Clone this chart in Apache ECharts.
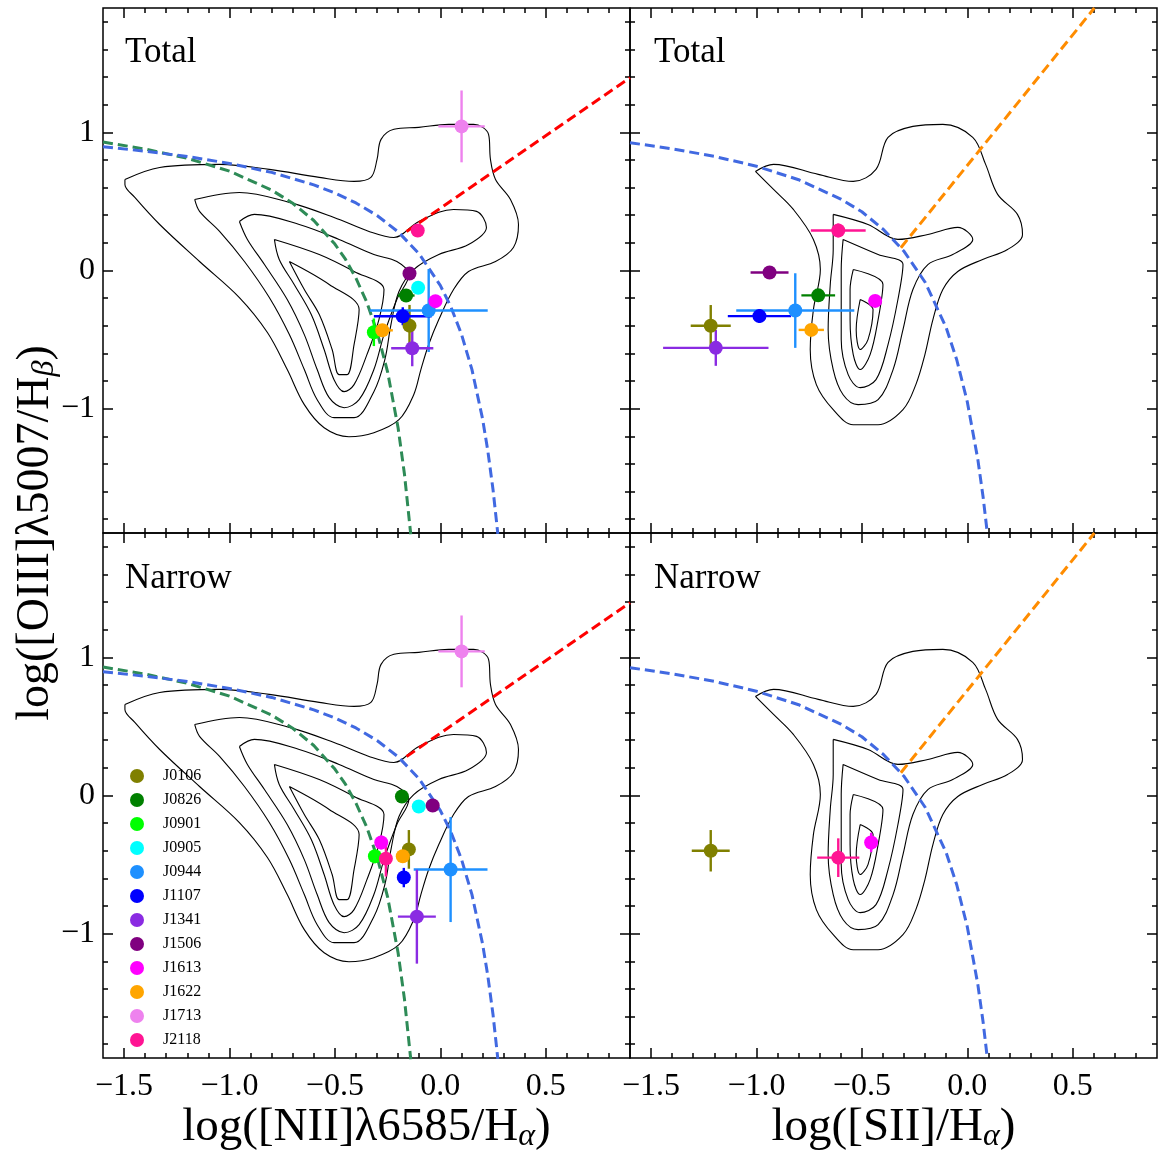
<!DOCTYPE html>
<html><head><meta charset="utf-8">
<script src="https://cdn.jsdelivr.net/npm/echarts@6/dist/echarts.min.js"></script>
<style>html,body{margin:0;padding:0;background:#fff}#c{width:1159px;height:1150px}</style>
</head><body><div id="c"></div>
<script>
const sources = ["J0106","J0826","J0901","J0905","J0944","J1107","J1341","J1506","J1613","J1622","J1713","J2118"];
const sourceColors = ["#808000","#008000","#00ff00","#00ffff","#1e90ff","#0000ff","#8a2be2","#800080","#ff00ff","#ffa500","#ee82ee","#ff1493"];

const xMajorTicks = [-1.5,-1.0,-0.5,0.0,0.5];
const xMinorTicks = [-1.5,-1.4,-1.3,-1.2,-1.1,-1.0,-0.9,-0.8,-0.7,-0.6,-0.5,-0.4,-0.3,-0.2,-0.1,0.0,0.1,0.2,0.3,0.4,0.5,0.6,0.7,0.8];
const yMajorTicks = [-1,0,1];
const yMinorTicks = [-1.8,-1.6,-1.4,-1.2,-1.0,-0.8,-0.6,-0.4,-0.2,0.0,0.2,0.4,0.6,0.8,1.0,1.2,1.4,1.6,1.8];

// Total, [NII]
const totNII_x  = [-0.146,-0.162,-0.315,-0.105,-0.055,-0.178,-0.133,-0.146,-0.023,-0.275,0.101,-0.107];
const totNII_y  = [-0.399,-0.181,-0.447,-0.125,-0.290,-0.331,-0.563,-0.022,-0.222,-0.433,1.043,0.290];
const totNII_ex = [0,0.04,0,0,0.28,0.137,0.10,0,0,0.05,0.11,0.02];
const totNII_ey = [0.15,0.02,0.10,0,0.30,0.065,0.13,0,0,0,0.26,0.04];
// Total, [SII]
const totSII_x  = [-1.217,-0.707,null,null,-0.816,-0.986,-1.193,-0.938,-0.437,-0.740,null,-0.612];
const totSII_y  = [-0.400,-0.180,null,null,-0.290,-0.330,-0.560,-0.015,-0.220,-0.430,null,0.290];
const totSII_ex = [0.095,0.08,0,0,0.28,0.15,0.25,0.09,0.03,0.06,0,0.13];
const totSII_ey = [0.15,0.02,0,0,0.27,0.05,0.13,0,0.03,0,0,0.05];
// Narrow, [NII]
const narNII_x  = [-0.149,-0.182,-0.310,-0.102,0.049,-0.173,-0.111,-0.036,-0.280,-0.178,0.101,-0.258];
const narNII_y  = [-0.390,-0.007,-0.440,-0.080,-0.536,-0.594,-0.877,-0.072,-0.340,-0.440,1.043,-0.457];
const narNII_ex = [0,0.02,0,0,0.175,0,0.09,0,0,0,0.11,0];
const narNII_ey = [0.14,0,0.05,0,0.38,0.07,0.34,0,0.05,0,0.26,0.13];
// Narrow, [SII]
const narSII_x  = [-1.217,null,null,null,null,null,null,null,-0.456,null,null,-0.612];
const narSII_y  = [-0.400,null,null,null,null,null,null,null,-0.340,null,null,-0.450];
const narSII_ex = [0.09,0,0,0,0,0,0,0,0,0,0,0.10];
const narSII_ey = [0.15,0,0,0,0,0,0,0,0.07,0,0,0.14];

// demarcation curves
const kewleyNII = [[-1.6,0.895],[-1.4,0.864],[-1.2,0.825],[-1.0,0.775],[-0.8,0.710],[-0.6,0.620],[-0.5,0.561],[-0.4,0.489],[-0.3,0.398],[-0.2,0.280],[-0.1,0.120],[0.0,-0.108],[0.05,-0.262],[0.1,-0.459],[0.15,-0.716],[0.2,-1.069],[0.225,-1.300],[0.25,-1.583],[0.273,-1.906]];
const kauffNII = [[-1.6,0.930],[-1.4,0.879],[-1.2,0.812],[-1.0,0.719],[-0.8,0.582],[-0.7,0.487],[-0.6,0.362],[-0.5,0.191],[-0.45,0.082],[-0.4,-0.056],[-0.35,-0.225],[-0.3,-0.443],[-0.25,-0.733],[-0.2,-1.140],[-0.17,-1.473],[-0.14,-1.911]];
const seyfertNII = [[-0.16,0.282],[0.9,1.395]];
const kewleySII = [[-1.6,0.925],[-1.4,0.881],[-1.2,0.826],[-1.0,0.755],[-0.8,0.657],[-0.6,0.517],[-0.5,0.425],[-0.4,0.300],[-0.3,0.139],[-0.2,-0.085],[-0.1,-0.414],[-0.05,-0.646],[0.0,-0.950],[0.05,-1.367],[0.075,-1.639],[0.095,-1.900]];
const seyfertSII = [[-0.315,0.165],[0.603,1.900]];

// SDSS density contours, [NII] diagram
const niiC1 = [[-1.496,0.659],[-1.331,0.746],[-1.047,0.768],[-0.811,0.732],[-0.574,0.674],[-0.409,0.645],[-0.329,0.674],[-0.300,0.804],[-0.281,0.949],[-0.220,1.022],[-0.102,1.036],[0.040,1.058],[0.158,1.058],[0.229,0.986],[0.238,0.804],[0.262,0.659],[0.333,0.514],[0.371,0.333],[0.347,0.167],[0.262,0.065],[0.134,-0.007],[0.063,-0.138],[-0.007,-0.355],[-0.055,-0.536],[-0.092,-0.717],[-0.126,-0.899],[-0.196,-1.080],[-0.315,-1.174],[-0.433,-1.203],[-0.551,-1.138],[-0.645,-0.971],[-0.726,-0.717],[-0.820,-0.449],[-0.953,-0.196],[-1.142,0.065],[-1.331,0.333],[-1.449,0.529],[-1.496,0.623],[-1.496,0.659]];
const niiC2 = [[-1.165,0.514],[-0.953,0.565],[-0.716,0.493],[-0.504,0.384],[-0.338,0.283],[-0.220,0.239],[-0.102,0.355],[0.063,0.442],[0.172,0.428],[0.219,0.312],[0.134,0.188],[-0.007,0.116],[-0.126,0.007],[-0.196,-0.152],[-0.234,-0.391],[-0.263,-0.645],[-0.315,-0.877],[-0.409,-1.065],[-0.504,-1.065],[-0.584,-0.935],[-0.645,-0.717],[-0.716,-0.464],[-0.811,-0.196],[-0.929,0.065],[-1.047,0.283],[-1.142,0.428],[-1.165,0.514]];
const niiC3 = [[-0.953,0.355],[-0.882,0.406],[-0.669,0.333],[-0.480,0.225],[-0.315,0.116],[-0.206,0.065],[-0.149,-0.029],[-0.206,-0.210],[-0.267,-0.464],[-0.315,-0.717],[-0.385,-0.935],[-0.456,-0.993],[-0.527,-0.920],[-0.584,-0.717],[-0.645,-0.464],[-0.726,-0.210],[-0.834,0.043],[-0.915,0.225],[-0.953,0.355]];
const niiC4 = [[-0.787,0.225],[-0.574,0.116],[-0.409,-0.007],[-0.267,-0.138],[-0.291,-0.355],[-0.348,-0.609],[-0.409,-0.826],[-0.456,-0.877],[-0.504,-0.790],[-0.551,-0.572],[-0.612,-0.319],[-0.693,-0.101],[-0.764,0.080],[-0.787,0.225]];
const niiC5 = [[-0.716,0.065],[-0.527,-0.101],[-0.385,-0.283],[-0.409,-0.536],[-0.442,-0.754],[-0.480,-0.754],[-0.513,-0.572],[-0.574,-0.319],[-0.645,-0.138],[-0.716,0.065]];
// SDSS density contours, [SII] diagram
const siiC1 = [[-1.005,0.717],[-0.919,0.768],[-0.707,0.696],[-0.541,0.645],[-0.433,0.732],[-0.376,0.964],[-0.258,1.043],[-0.116,1.058],[0.026,0.964],[0.087,0.768],[0.144,0.551],[0.238,0.406],[0.262,0.261],[0.191,0.152],[0.073,0.080],[-0.045,-0.007],[-0.116,-0.138],[-0.163,-0.355],[-0.201,-0.609],[-0.244,-0.826],[-0.305,-1.007],[-0.423,-1.116],[-0.541,-1.116],[-0.636,-1.007],[-0.716,-0.826],[-0.745,-0.572],[-0.730,-0.283],[-0.697,0.007],[-0.730,0.225],[-0.825,0.442],[-0.919,0.587],[-1.005,0.717]];
const siiC2 = [[-0.636,0.406],[-0.471,0.333],[-0.329,0.225],[-0.187,0.261],[-0.045,0.312],[0.026,0.225],[-0.069,0.116],[-0.187,0.043],[-0.258,-0.138],[-0.305,-0.428],[-0.352,-0.717],[-0.423,-0.935],[-0.518,-0.971],[-0.589,-0.899],[-0.636,-0.717],[-0.660,-0.428],[-0.650,-0.101],[-0.636,0.152],[-0.636,0.406]];
const siiC3 = [[-0.589,0.225],[-0.423,0.116],[-0.305,0.043],[-0.329,-0.210],[-0.376,-0.536],[-0.433,-0.790],[-0.508,-0.848],[-0.565,-0.754],[-0.598,-0.500],[-0.598,-0.210],[-0.598,0.007],[-0.589,0.225]];
const siiC4 = [[-0.541,0.007],[-0.400,-0.101],[-0.423,-0.355],[-0.461,-0.609],[-0.508,-0.717],[-0.541,-0.609],[-0.556,-0.355],[-0.556,-0.138],[-0.541,0.007]];
const siiC5 = [[-0.508,-0.210],[-0.447,-0.283],[-0.471,-0.500],[-0.508,-0.572],[-0.527,-0.428],[-0.508,-0.210]];

const FONT = "'Liberation Serif','Times New Roman','DejaVu Serif',serif";
const X_MIN = -1.6, X_MAX = 0.9, Y_MIN = -1.9, Y_MAX = 1.9;
function fmtNum(v, d){ const s = Math.abs(v).toFixed(d); return v < -1e-9 ? '\u2212' + s : s; }

const grids = [
  {left:103, top:8, width:527, height:525},
  {left:630, top:8, width:527, height:525},
  {left:103, top:533, width:527, height:525},
  {left:630, top:533, width:527, height:525}
].map(g => Object.assign(g, {show:true, borderColor:'#000', borderWidth:1.5, backgroundColor:'transparent', containLabel:false, outerBoundsMode:'none'}));

const subStyle = {fontSize:32, fontStyle:'italic', fontFamily:FONT, color:'#000', padding:[18,0,0,0]};
const xAxes = [], yAxes = [];
const tickLine = {color:'#000', width:1.5};
function addAxes(g, showXLabels, xName){
  const xb = {type:'value', gridIndex:g, min:X_MIN, max:X_MAX, splitLine:{show:false}, axisLine:{show:false, onZero:false}};
  const xi = xAxes.length;
  xAxes.push(Object.assign({}, xb, {position:'bottom',
    axisTick:{show:true, inside:true, length:10, customValues:xMajorTicks, lineStyle:tickLine},
    axisLabel:{show:showXLabels, customValues:xMajorTicks, formatter:v=>fmtNum(v,1), fontSize:32, fontFamily:FONT, color:'#000', margin:13},
    name: xName || '', nameLocation:'middle', nameGap:44,
    nameTextStyle:{fontSize:47, fontFamily:FONT, color:'#000', rich:{s:subStyle}}
  }));
  xAxes.push(Object.assign({}, xb, {position:'bottom', axisTick:{show:true, inside:true, length:5, customValues:xMinorTicks, lineStyle:tickLine}, axisLabel:{show:false}}));
  xAxes.push(Object.assign({}, xb, {position:'top', axisTick:{show:true, inside:true, length:10, customValues:xMajorTicks, lineStyle:tickLine}, axisLabel:{show:false}}));
  xAxes.push(Object.assign({}, xb, {position:'top', axisTick:{show:true, inside:true, length:5, customValues:xMinorTicks, lineStyle:tickLine}, axisLabel:{show:false}}));
  const yb = {type:'value', gridIndex:g, min:Y_MIN, max:Y_MAX, splitLine:{show:false}, axisLine:{show:false, onZero:false}};
  const yi = yAxes.length;
  const showY = (g % 2 === 0);
  yAxes.push(Object.assign({}, yb, {position:'left',
    axisTick:{show:true, inside:true, length:10, customValues:yMajorTicks, lineStyle:tickLine},
    axisLabel:{show:showY, customValues:yMajorTicks, formatter:v=>fmtNum(v,0), fontSize:32, fontFamily:FONT, color:'#000', margin:8}}));
  yAxes.push(Object.assign({}, yb, {position:'left', axisTick:{show:true, inside:true, length:5, customValues:yMinorTicks, lineStyle:tickLine}, axisLabel:{show:false}}));
  yAxes.push(Object.assign({}, yb, {position:'right', axisTick:{show:true, inside:true, length:10, customValues:yMajorTicks, lineStyle:tickLine}, axisLabel:{show:false}}));
  yAxes.push(Object.assign({}, yb, {position:'right', axisTick:{show:true, inside:true, length:5, customValues:yMinorTicks, lineStyle:tickLine}, axisLabel:{show:false}}));
  return [xi, yi];
}

const series = [];
function contour(pts, ax){
  series.push({type:'line', xAxisIndex:ax[0], yAxisIndex:ax[1], data:pts, showSymbol:false, smooth:0.35, silent:true,
    lineStyle:{color:'#000', width:1.1}, z:1});
}
function dashed(pts, color, ax){
  series.push({type:'line', xAxisIndex:ax[0], yAxisIndex:ax[1], data:pts, showSymbol:false, smooth:false, silent:true,
    lineStyle:{color:color, width:3, type:[10,5]}, z:2});
}
function points(xs, ys, exs, eys, ax){
  sources.forEach((name, i) => {
    if (xs[i] === null) return;
    const color = sourceColors[i];
    series.push({type:'custom', name, xAxisIndex:ax[0], yAxisIndex:ax[1], silent:true, z:3,
      itemStyle:{color},
      encode:{x:0, y:1},
      data:[[xs[i], ys[i], exs[i], eys[i]]],
      renderItem:(params, api) => {
        const x = api.value(0), y = api.value(1), ex = api.value(2), ey = api.value(3);
        const ch = [];
        const st = {stroke:color, lineWidth:2.4};
        if (ex > 0){ const a = api.coord([x-ex,y]), b = api.coord([x+ex,y]); ch.push({type:'line', shape:{x1:a[0],y1:a[1],x2:b[0],y2:b[1]}, style:st}); }
        if (ey > 0){ const a = api.coord([x,y-ey]), b = api.coord([x,y+ey]); ch.push({type:'line', shape:{x1:a[0],y1:a[1],x2:b[0],y2:b[1]}, style:st}); }
        return {type:'group', children:ch};
      }});
    series.push({type:'scatter', name, xAxisIndex:ax[0], yAxisIndex:ax[1], data:[[xs[i], ys[i]]], symbol:'circle', symbolSize:14,
      itemStyle:{color, opacity:1}, silent:true, z:3});
  });
}

const axTL = addAxes(0, false, '');
const axTR = addAxes(1, false, '');
const axBL = addAxes(2, true, 'log([NII]\u03bb6585/H{s|\u03b1})');
const axBR = addAxes(3, true, 'log([SII]/H{s|\u03b1})');

[axTL, axBL].forEach(ax => {
  [niiC1,niiC2,niiC3,niiC4,niiC5].forEach(c => contour(c, ax));
  dashed(kauffNII, '#2e8b57', ax);
  dashed(kewleyNII, '#4169e1', ax);
  dashed(seyfertNII, '#ff0000', ax);
});
[axTR, axBR].forEach(ax => {
  [siiC1,siiC2,siiC3,siiC4,siiC5].forEach(c => contour(c, ax));
  dashed(kewleySII, '#4169e1', ax);
  dashed(seyfertSII, '#ff8c00', ax);
});
points(totNII_x, totNII_y, totNII_ex, totNII_ey, axTL);
points(totSII_x, totSII_y, totSII_ex, totSII_ey, axTR);
points(narNII_x, narNII_y, narNII_ex, narNII_ey, axBL);
points(narSII_x, narSII_y, narSII_ex, narSII_ey, axBR);

const panelLabel = (txt, x, y) => ({type:'text', x, y, style:{text:txt, fontSize:35, fontFamily:FONT, fill:'#000', align:'left', verticalAlign:'top'}, z:10});

const chart = echarts.init(document.getElementById('c'), null, {renderer:'canvas'});
chart.setOption({
  animation:false,
  backgroundColor:'#fff',
  grid: grids,
  xAxis: xAxes,
  yAxis: yAxes,
  legend: {show:true, orient:'vertical', left:125, top:763, itemWidth:14, itemHeight:14, itemGap:8, icon:'circle',
    selectedMode:false, data:sources,
    textStyle:{fontSize:16, fontFamily:FONT, color:'#000', padding:[0,0,0,14]}},
  graphic: [
    panelLabel('Total', 125, 35),
    panelLabel('Total', 654, 35),
    panelLabel('Narrow', 125, 561),
    panelLabel('Narrow', 654, 561),
    {type:'text', x:36, y:533, rotation:Math.PI/2,
      style:{text:'log([OIII]\u03bb5007/H{s|\u03b2})', fontSize:46, fontFamily:FONT, fill:'#000', align:'center', verticalAlign:'middle',
        rich:{s:{fontSize:32, fontStyle:'italic', fontFamily:FONT, fill:'#000', padding:[18,0,0,0]}}}}
  ],
  series: series
});
</script></body></html>
